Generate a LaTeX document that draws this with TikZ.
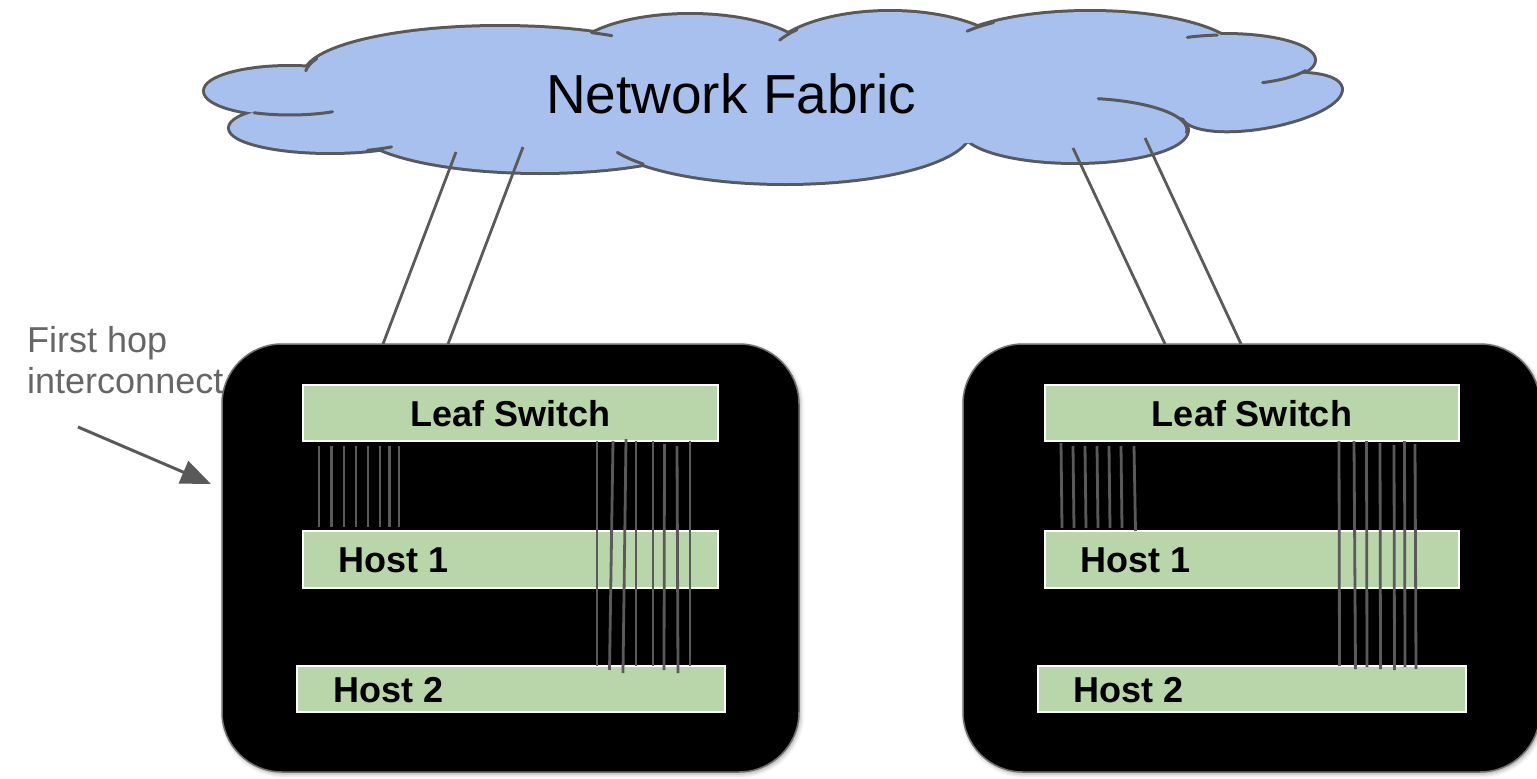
\documentclass[tikz,border=0pt]{standalone}
\usepackage{fontspec}
\setmainfont{Liberation Sans}
\usetikzlibrary{arrows.meta,calc,shadows.blur}

\definecolor{cloudblue}{HTML}{A7C0EE}
\definecolor{cloudedge}{HTML}{595959}
\definecolor{barfill}{HTML}{B8D6A9}
\definecolor{wirecol}{HTML}{5A5A5A}
\definecolor{notecol}{HTML}{666666}
\definecolor{rackedge}{HTML}{707070}

\begin{document}
\begin{tikzpicture}[x=1pt,y=-1pt,
  cloudpuff/.style={draw=cloudedge,line width=6pt,fill=cloudblue},
  cloudcurl/.style={draw=cloudedge,line width=3pt,line cap=round},
  uplink/.style={draw=wirecol,line width=2.8pt},
  wire/.style={draw=wirecol,line width=2.8pt},
  rack/.style={fill=black,draw=rackedge,line width=1.5pt,rounded corners=60pt,
    inner sep=0pt,minimum width=577pt,minimum height=428pt,
    blur shadow={shadow xshift=1.5pt,shadow yshift=-2pt,shadow blur radius=4pt,shadow opacity=35}},
  bar/.style={fill=barfill,draw=white,line width=2pt,inner sep=0pt},
  bartext/.style={font=\fontsize{36}{40}\selectfont\bfseries,inner sep=0pt},
  cloudtext/.style={font=\fontsize{55}{60}\selectfont,inner sep=0pt,anchor=base},
  notetext/.style={font=\fontsize{36}{41}\selectfont,text=notecol,inner sep=0pt,align=left},
  hoparrow/.style={draw=cloudedge,line width=3pt,-{Triangle[length=30pt,width=24pt]}}
]
\useasboundingbox (0,0) rectangle (1537,779);

% ---------- cloud: outlined puffs, then a second fill hides inner outlines ----------
\def\puffs{290/91/85/24/0, 330/128/100/24/0, 500/75/195/48/0, 540/125/185/47/0,
  785/130/185/53/0, 1075/130/112/32/0, 1262/102/80/25/10, 1225/60/89/25/0,
  1090/57/150/45/0, 890/65/125/53/0, 690/60/120/45/0}
\foreach \cx/\cy/\rx/\ry/\rot in \puffs
  \draw[cloudpuff,rotate around={\rot:(\cx,\cy)}] (\cx,\cy) ellipse [x radius=\rx, y radius=\ry];
\foreach \cx/\cy/\rx/\ry/\rot in \puffs
  \fill[cloudblue,rotate around={\rot:(\cx,\cy)}] (\cx,\cy) ellipse [x radius=\rx, y radius=\ry];
\fill[cloudblue] (780,100) ellipse [x radius=420, y radius=48];
\fill[cloudblue] (1205,98) ellipse [x radius=50, y radius=22];

% inner curls of the cloud outline
\foreach \cx/\cy/\rx/\ry/\a/\b in {290/91/85/24/60/115, 330/128/100/24/52/68,
  500/75/195/48/-62/-55, 500/75/195/48/-175/-160, 785/130/185/53/140/155,
  890/65/125/53/-152/-138, 1090/57/150/45/-145/-130, 1225/60/89/25/-115/-95,
  1225/60/89/25/25/65, 1075/130/112/32/-78/5}
  \draw[cloudcurl] ([shift={(\a:\rx\space and \ry)}]\cx,\cy)
    arc[start angle=\a, end angle=\b, x radius=\rx, y radius=\ry];

\node[cloudtext] (fabric) at (731,113) {Network Fabric};

% ---------- racks ----------
\node[rack] (lrack) at (510.5,558) {};
\node[rack] (rrack) at (1251.5,558) {};

% left rack bars
\node[bar,minimum width=415pt,minimum height=56pt] (lleaf) at (510.5,413) {};
\node[bar,minimum width=415pt,minimum height=57pt] (lhostA) at (510.5,559.5) {};
\node[bar,minimum width=428pt,minimum height=46pt] (lhostB) at (511,689) {};
\node[bartext,anchor=base] (lleaft) at (510.5,426) {Leaf Switch};
\node[bartext,anchor=base west] (lhostAt) at (338,572) {Host 1};
\node[bartext,anchor=base west] (lhostBt) at (333,702) {Host 2};

% right rack bars
\node[bar,minimum width=414pt,minimum height=56pt] (rleaf) at (1252,413) {};
\node[bar,minimum width=414pt,minimum height=57pt] (rhostA) at (1252,559.5) {};
\node[bar,minimum width=428pt,minimum height=46pt] (rhostB) at (1252,689) {};
\node[bartext,anchor=base] (rleaft) at (1252,426) {Leaf Switch};
\node[bartext,anchor=base west] (rhostAt) at (1080,572) {Host 1};
\node[bartext,anchor=base west] (rhostBt) at (1073,702) {Host 2};

% ---------- cabling inside the racks ----------
% leaf switch to host 1
\foreach \x in {319,331.5,344,356,368,380,389.5,399}
  \draw[wire] (\x,446) -- (\x,527);
\foreach \xa/\xb/\ya/\yb in {1061/1062/443/528, 1073/1074/446/528, 1085/1086/446/528,
  1097/1098/446/528, 1109/1110/446/528, 1121/1122/446/528, 1134/1135.5/446/531}
  \draw[wire] (\xa,\ya) -- (\xb,\yb);
% leaf switch to host 2
\foreach \xa/\xb/\ya/\yb in {597/597/441/666, 613/609.5/441/670, 626/623/439/673,
  636/636/441/666, 653/653/441/666, 664.5/664/444/670, 677/678/446/673, 690/690/441/666}
  \draw[wire] (\xa,\ya) -- (\xb,\yb);
\foreach \xa/\xb/\ya/\yb in {1339/1339.5/441/666, 1354/1355.5/441/669, 1366.5/1367/441/667,
  1380/1380.5/443/669, 1394/1394.5/445/670, 1404.5/1405/441/667, 1415/1416/444/669}
  \draw[wire] (\xa,\ya) -- (\xb,\yb);

% ---------- uplinks from the racks into the fabric ----------
\coordinate (lupA) at (456,152);  \coordinate (lupAend) at (383,344);
\coordinate (lupB) at (523,147);  \coordinate (lupBend) at (448,344);
\coordinate (rupA) at (1073,148); \coordinate (rupAend) at (1165,344);
\coordinate (rupB) at (1145,138); \coordinate (rupBend) at (1241,344);
\draw[uplink] (lupA) -- (lupAend);
\draw[uplink] (lupB) -- (lupBend);
\draw[uplink] (rupA) -- (rupAend);
\draw[uplink] (rupB) -- (rupBend);

% ---------- annotation ----------
\node[notetext,anchor=north west] (hopnote) at (27,326.2) {First hop\\interconnect};
\coordinate (hopstart) at (78,427);
\coordinate (hoptip) at (211,484);
\draw[hoparrow] (hopstart) -- (hoptip);
\end{tikzpicture}
\end{document}
